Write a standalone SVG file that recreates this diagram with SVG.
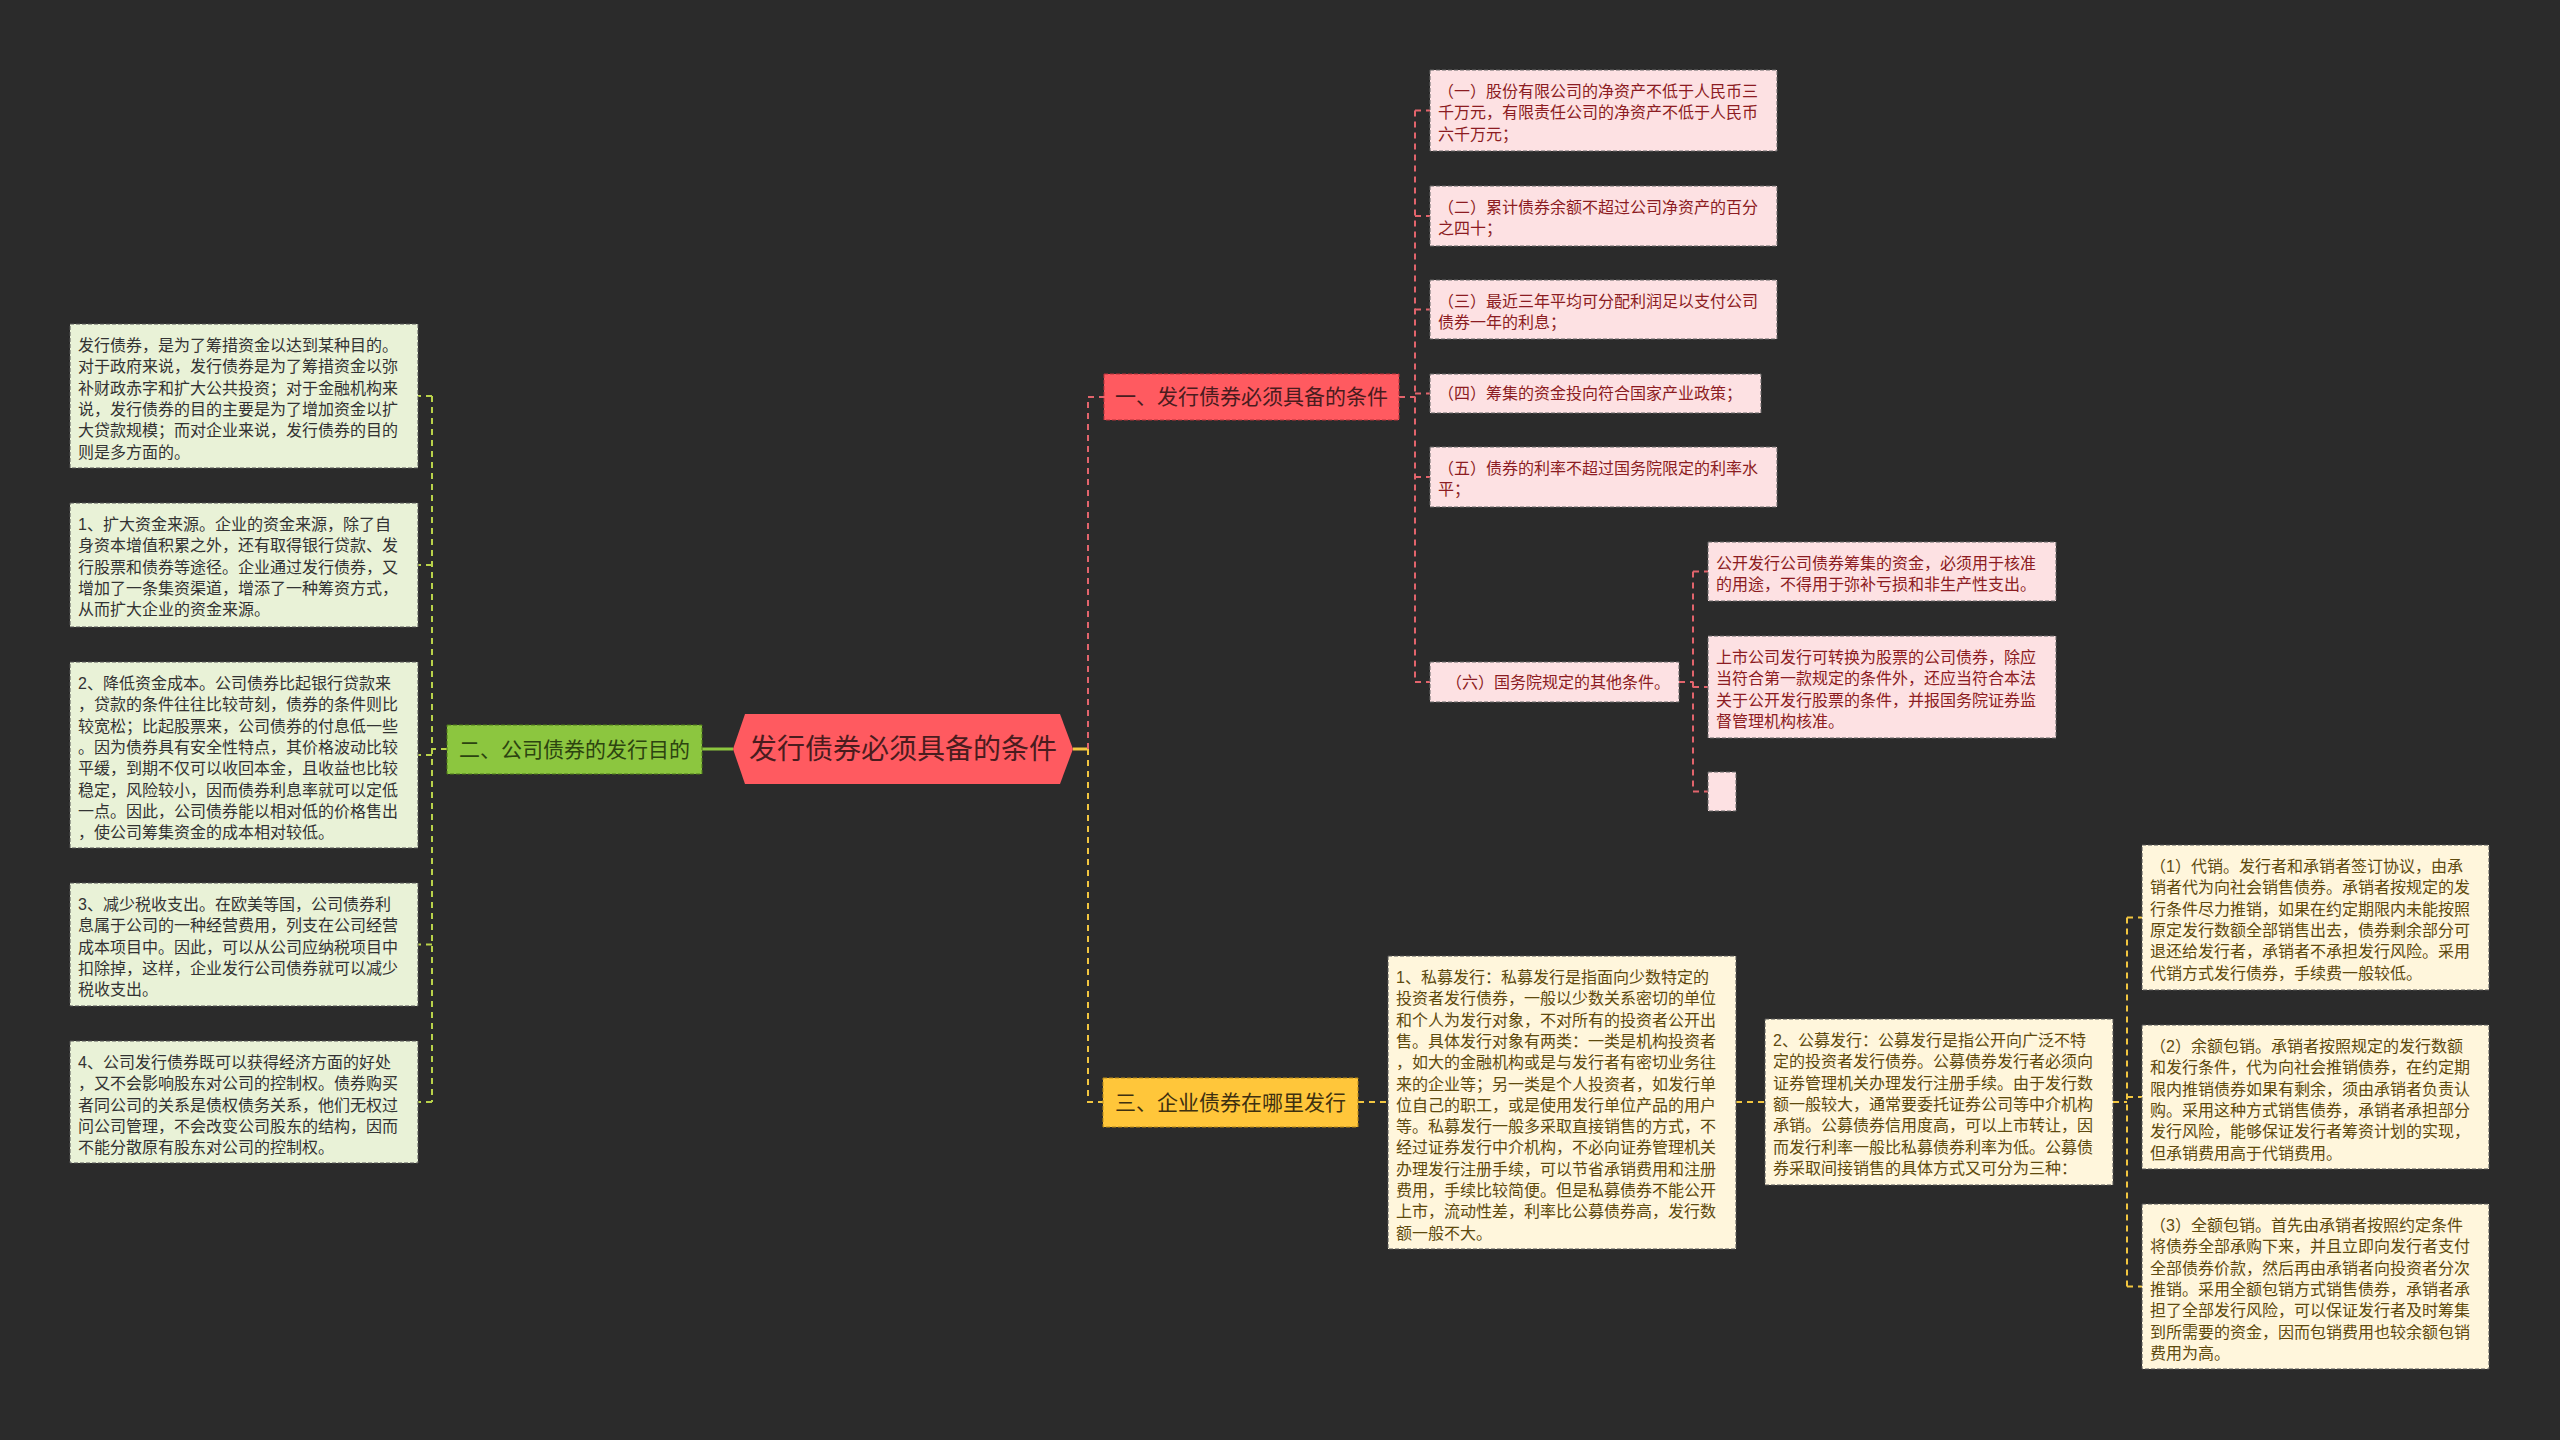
<svg xmlns="http://www.w3.org/2000/svg" width="2560" height="1440" viewBox="0 0 2560 1440">
<style>
text{font-family:"Liberation Sans","Noto Sans CJK SC",sans-serif;}
.t{font-size:16px;}
.g .box{fill:#e9f2d7;stroke:#555;stroke-width:1;stroke-dasharray:4 2;}
.g text{fill:#333;}
.p .box{fill:#fde1e3;stroke:#666;stroke-width:1;stroke-dasharray:4 2;}
.p text{fill:#8c1c22;}
.y .box{fill:#fff6dc;stroke:#555;stroke-width:1;stroke-dasharray:4 2;}
.y text{fill:#5e4a0e;}
.main{font-size:21px;}
.cg{stroke:#b9d24a;stroke-width:2;fill:none;stroke-dasharray:6 5;}
.cr{stroke:#e2646c;stroke-width:2;fill:none;stroke-dasharray:6 5;}
.cy{stroke:#f2c640;stroke-width:2;fill:none;stroke-dasharray:6 5;}
</style>
<rect x="0" y="0" width="2560" height="1440" fill="#2b2b2b"/>

<g id="connectors">
  <path d="M702 749 H733" stroke="#8cc63f" stroke-width="3" fill="none"/>
  <path class="cg" d="M447 749 H432"/>
  <path class="cg" d="M432 396 V1102"/>
  <path class="cg" d="M432 396 H418 M432 565 H418 M432 755 H418 M432 944.5 H418 M432 1102 H418"/>
  <path d="M1073 749 H1088" stroke="#f2c640" stroke-width="3" fill="none"/>
  <path class="cr" d="M1088 749 V397 H1104"/>
  <path class="cy" d="M1088 749 V1102 H1103"/>
  <path class="cr" d="M1399 397 H1415"/>
  <path class="cr" d="M1415 110.5 V682"/>
  <path class="cr" d="M1415 110.5 H1430 M1415 216 H1430 M1415 309.5 H1430 M1415 393.5 H1430 M1415 477 H1430 M1415 682 H1430"/>
  <path class="cr" d="M1679 682 H1693"/>
  <path class="cr" stroke-width="1.5" d="M1693 571.5 V791.5"/>
  <path class="cr" stroke-width="1.5" d="M1693 571.5 H1708 M1693 687 H1708 M1693 791.5 H1708"/>
  <path class="cy" d="M1358 1102 H1388"/>
  <path class="cy" d="M1736 1102 H1765"/>
  <path class="cy" d="M2113 1102 H2127"/>
  <path class="cy" d="M2127 917.5 V1286.5"/>
  <path class="cy" d="M2127 917.5 H2142 M2127 1097 H2142 M2127 1286.5 H2142"/>
</g>

<g id="root">
  <polygon points="745,714 1060,714 1073,749 1060,784 745,784 733,749" fill="#ff5a60"/>
  <text x="903" y="759" font-size="28" text-anchor="middle" fill="#4a1c1e">发行债券必须具备的条件</text>
</g>

<g id="n2">
  <rect x="447" y="725" width="255" height="49" fill="#8cc63f" stroke="#4f7a1a" stroke-width="1" stroke-dasharray="4 2"/>
  <text class="main" x="574.5" y="757" text-anchor="middle" fill="#2c4410">二、公司债券的发行目的</text>
</g>

<g id="n1">
  <rect x="1104" y="374" width="295" height="46" fill="#ff5a60" stroke="#b8323a" stroke-width="1" stroke-dasharray="4 2"/>
  <text class="main" x="1251.5" y="404" text-anchor="middle" fill="#4a1c1e">一、发行债券必须具备的条件</text>
</g>

<g id="n3">
  <rect x="1103" y="1078" width="255" height="49" fill="#ffc63a" stroke="#b88a18" stroke-width="1" stroke-dasharray="4 2"/>
  <text class="main" x="1230.5" y="1110" text-anchor="middle" fill="#3e3010">三、企业债券在哪里发行</text>
</g>

<g id="g0" class="g">
  <rect class="box" x="70" y="324" width="348" height="144"/>
  <text class="t"><tspan x="78" y="351">发行债券，是为了筹措资金以达到某种目的。</tspan><tspan x="78" dy="21.3">对于政府来说，发行债券是为了筹措资金以弥</tspan><tspan x="78" dy="21.3">补财政赤字和扩大公共投资；对于金融机构来</tspan><tspan x="78" dy="21.3">说，发行债券的目的主要是为了增加资金以扩</tspan><tspan x="78" dy="21.3">大贷款规模；而对企业来说，发行债券的目的</tspan><tspan x="78" dy="21.3">则是多方面的。</tspan></text>
</g>
<g id="g1" class="g">
  <rect class="box" x="70" y="503" width="348" height="124"/>
  <text class="t"><tspan x="78" y="530">1、扩大资金来源。企业的资金来源，除了自</tspan><tspan x="78" dy="21.3">身资本增值积累之外，还有取得银行贷款、发</tspan><tspan x="78" dy="21.3">行股票和债券等途径。企业通过发行债券，又</tspan><tspan x="78" dy="21.3">增加了一条集资渠道，增添了一种筹资方式，</tspan><tspan x="78" dy="21.3">从而扩大企业的资金来源。</tspan></text>
</g>
<g id="g2" class="g">
  <rect class="box" x="70" y="662" width="348" height="186"/>
  <text class="t"><tspan x="78" y="689">2、降低资金成本。公司债券比起银行贷款来</tspan><tspan x="78" dy="21.3">，贷款的条件往往比较苛刻，债券的条件则比</tspan><tspan x="78" dy="21.3">较宽松；比起股票来，公司债券的付息低一些</tspan><tspan x="78" dy="21.3">。因为债券具有安全性特点，其价格波动比较</tspan><tspan x="78" dy="21.3">平缓，到期不仅可以收回本金，且收益也比较</tspan><tspan x="78" dy="21.3">稳定，风险较小，因而债券利息率就可以定低</tspan><tspan x="78" dy="21.3">一点。因此，公司债券能以相对低的价格售出</tspan><tspan x="78" dy="21.3">，使公司筹集资金的成本相对较低。</tspan></text>
</g>
<g id="g3" class="g">
  <rect class="box" x="70" y="883" width="348" height="123"/>
  <text class="t"><tspan x="78" y="910">3、减少税收支出。在欧美等国，公司债券利</tspan><tspan x="78" dy="21.3">息属于公司的一种经营费用，列支在公司经营</tspan><tspan x="78" dy="21.3">成本项目中。因此，可以从公司应纳税项目中</tspan><tspan x="78" dy="21.3">扣除掉，这样，企业发行公司债券就可以减少</tspan><tspan x="78" dy="21.3">税收支出。</tspan></text>
</g>
<g id="g4" class="g">
  <rect class="box" x="70" y="1041" width="348" height="122"/>
  <text class="t"><tspan x="78" y="1068">4、公司发行债券既可以获得经济方面的好处</tspan><tspan x="78" dy="21.3">，又不会影响股东对公司的控制权。债券购买</tspan><tspan x="78" dy="21.3">者同公司的关系是债权债务关系，他们无权过</tspan><tspan x="78" dy="21.3">问公司管理，不会改变公司股东的结构，因而</tspan><tspan x="78" dy="21.3">不能分散原有股东对公司的控制权。</tspan></text>
</g>

<g id="p1" class="p">
  <rect class="box" x="1430" y="70" width="347" height="81"/>
  <text class="t"><tspan x="1438" y="97">（一）股份有限公司的净资产不低于人民币三</tspan><tspan x="1438" dy="21.3">千万元，有限责任公司的净资产不低于人民币</tspan><tspan x="1438" dy="21.3">六千万元；</tspan></text>
</g>
<g id="p2" class="p">
  <rect class="box" x="1430" y="186" width="347" height="60"/>
  <text class="t"><tspan x="1438" y="213">（二）累计债券余额不超过公司净资产的百分</tspan><tspan x="1438" dy="21.3">之四十；</tspan></text>
</g>
<g id="p3" class="p">
  <rect class="box" x="1430" y="280" width="347" height="59"/>
  <text class="t"><tspan x="1438" y="307">（三）最近三年平均可分配利润足以支付公司</tspan><tspan x="1438" dy="21.3">债券一年的利息；</tspan></text>
</g>
<g id="p4" class="p">
  <rect class="box" x="1430" y="374" width="331" height="39"/>
  <text class="t"><tspan x="1438" y="399">（四）筹集的资金投向符合国家产业政策；</tspan></text>
</g>
<g id="p5" class="p">
  <rect class="box" x="1430" y="447" width="347" height="60"/>
  <text class="t"><tspan x="1438" y="474">（五）债券的利率不超过国务院限定的利率水</tspan><tspan x="1438" dy="21.3">平；</tspan></text>
</g>
<g id="p6" class="p">
  <rect class="box" x="1430" y="662" width="249" height="40"/>
  <text class="t"><tspan x="1446" y="688">（六）国务院规定的其他条件。</tspan></text>
</g>
<g id="p6a" class="p">
  <rect class="box" x="1708" y="542" width="348" height="59"/>
  <text class="t"><tspan x="1716" y="569">公开发行公司债券筹集的资金，必须用于核准</tspan><tspan x="1716" dy="21.3">的用途，不得用于弥补亏损和非生产性支出。</tspan></text>
</g>
<g id="p6b" class="p">
  <rect class="box" x="1708" y="636" width="348" height="102"/>
  <text class="t"><tspan x="1716" y="663">上市公司发行可转换为股票的公司债券，除应</tspan><tspan x="1716" dy="21.3">当符合第一款规定的条件外，还应当符合本法</tspan><tspan x="1716" dy="21.3">关于公开发行股票的条件，并报国务院证券监</tspan><tspan x="1716" dy="21.3">督管理机构核准。</tspan></text>
</g>
<g id="p6c" class="p">
  <rect class="box" x="1708" y="772" width="28" height="39"/>
</g>

<g id="y1" class="y">
  <rect class="box" x="1388" y="956" width="348" height="293"/>
  <text class="t"><tspan x="1396" y="983">1、私募发行：私募发行是指面向少数特定的</tspan><tspan x="1396" dy="21.3">投资者发行债券，一般以少数关系密切的单位</tspan><tspan x="1396" dy="21.3">和个人为发行对象，不对所有的投资者公开出</tspan><tspan x="1396" dy="21.3">售。具体发行对象有两类：一类是机构投资者</tspan><tspan x="1396" dy="21.3">，如大的金融机构或是与发行者有密切业务往</tspan><tspan x="1396" dy="21.3">来的企业等；另一类是个人投资者，如发行单</tspan><tspan x="1396" dy="21.3">位自己的职工，或是使用发行单位产品的用户</tspan><tspan x="1396" dy="21.3">等。私募发行一般多采取直接销售的方式，不</tspan><tspan x="1396" dy="21.3">经过证券发行中介机构，不必向证券管理机关</tspan><tspan x="1396" dy="21.3">办理发行注册手续，可以节省承销费用和注册</tspan><tspan x="1396" dy="21.3">费用，手续比较简便。但是私募债券不能公开</tspan><tspan x="1396" dy="21.3">上市，流动性差，利率比公募债券高，发行数</tspan><tspan x="1396" dy="21.3">额一般不大。</tspan></text>
</g>
<g id="y2" class="y">
  <rect class="box" x="1765" y="1019" width="348" height="166"/>
  <text class="t"><tspan x="1773" y="1046">2、公募发行：公募发行是指公开向广泛不特</tspan><tspan x="1773" dy="21.3">定的投资者发行债券。公募债券发行者必须向</tspan><tspan x="1773" dy="21.3">证券管理机关办理发行注册手续。由于发行数</tspan><tspan x="1773" dy="21.3">额一般较大，通常要委托证券公司等中介机构</tspan><tspan x="1773" dy="21.3">承销。公募债券信用度高，可以上市转让，因</tspan><tspan x="1773" dy="21.3">而发行利率一般比私募债券利率为低。公募债</tspan><tspan x="1773" dy="21.3">券采取间接销售的具体方式又可分为三种：</tspan></text>
</g>
<g id="y2a" class="y">
  <rect class="box" x="2142" y="845" width="347" height="145"/>
  <text class="t"><tspan x="2150" y="872">（1）代销。发行者和承销者签订协议，由承</tspan><tspan x="2150" dy="21.3">销者代为向社会销售债券。承销者按规定的发</tspan><tspan x="2150" dy="21.3">行条件尽力推销，如果在约定期限内未能按照</tspan><tspan x="2150" dy="21.3">原定发行数额全部销售出去，债券剩余部分可</tspan><tspan x="2150" dy="21.3">退还给发行者，承销者不承担发行风险。采用</tspan><tspan x="2150" dy="21.3">代销方式发行债券，手续费一般较低。</tspan></text>
</g>
<g id="y2b" class="y">
  <rect class="box" x="2142" y="1025" width="347" height="144"/>
  <text class="t"><tspan x="2150" y="1052">（2）余额包销。承销者按照规定的发行数额</tspan><tspan x="2150" dy="21.3">和发行条件，代为向社会推销债券，在约定期</tspan><tspan x="2150" dy="21.3">限内推销债券如果有剩余，须由承销者负责认</tspan><tspan x="2150" dy="21.3">购。采用这种方式销售债券，承销者承担部分</tspan><tspan x="2150" dy="21.3">发行风险，能够保证发行者筹资计划的实现，</tspan><tspan x="2150" dy="21.3">但承销费用高于代销费用。</tspan></text>
</g>
<g id="y2c" class="y">
  <rect class="box" x="2142" y="1204" width="347" height="165"/>
  <text class="t"><tspan x="2150" y="1231">（3）全额包销。首先由承销者按照约定条件</tspan><tspan x="2150" dy="21.3">将债券全部承购下来，并且立即向发行者支付</tspan><tspan x="2150" dy="21.3">全部债券价款，然后再由承销者向投资者分次</tspan><tspan x="2150" dy="21.3">推销。采用全额包销方式销售债券，承销者承</tspan><tspan x="2150" dy="21.3">担了全部发行风险，可以保证发行者及时筹集</tspan><tspan x="2150" dy="21.3">到所需要的资金，因而包销费用也较余额包销</tspan><tspan x="2150" dy="21.3">费用为高。</tspan></text>
</g>
</svg>
